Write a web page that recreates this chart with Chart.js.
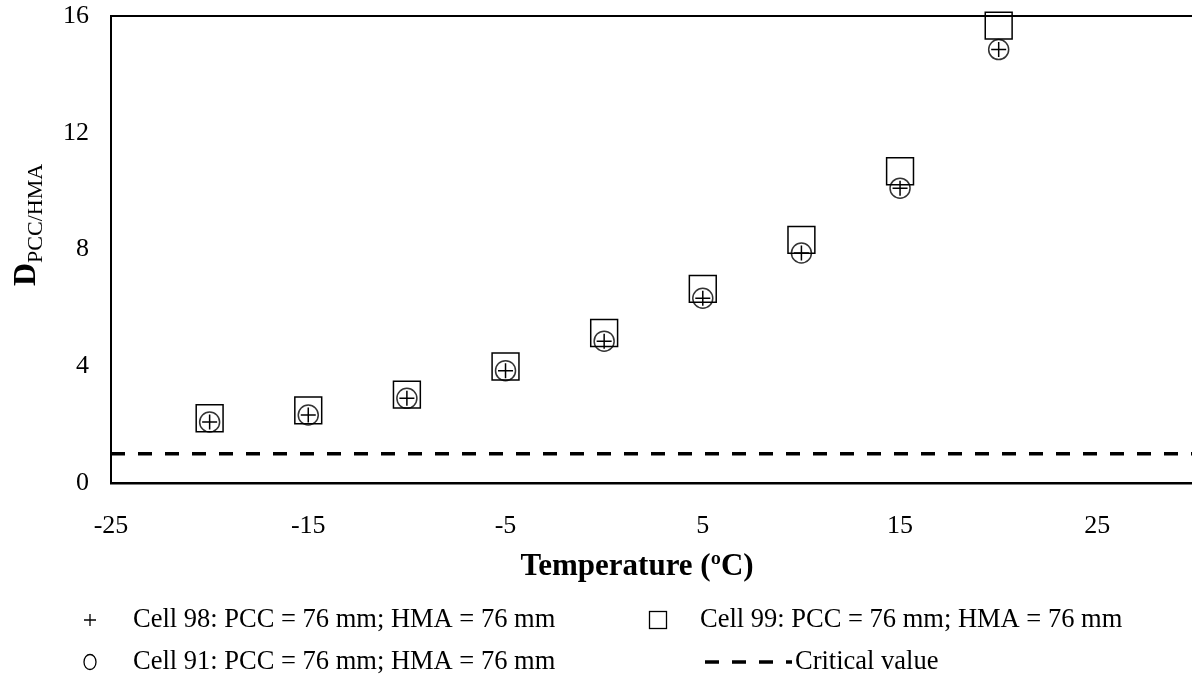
<!DOCTYPE html>
<html>
<head>
<meta charset="utf-8">
<script src="https://cdn.jsdelivr.net/npm/chart.js@4.4.0/dist/chart.umd.min.js"></script>
<style>
  html, body { margin: 0; padding: 0; background: #fff; }
  #wrap { width: 1192px; height: 681px; }
</style>
</head>
<body>
<div id="wrap"><canvas id="chart"></canvas></div>
<script>
// data
const temps = [-20, -15, -10, -5, 0, 5, 10, 15, 20];
const cell98 = [2.09, 2.33, 2.90, 3.85, 4.86, 6.33, 7.88, 10.10, 14.85];
const cell99 = [2.22, 2.49, 3.03, 3.99, 5.14, 6.65, 8.33, 10.68, 15.67];
const cell91 = [2.09, 2.33, 2.90, 3.85, 4.86, 6.33, 7.88, 10.10, 14.85];
const criticalValue = 1;
const xTicks = [-25, -15, -5, 5, 15, 25];
const yTicks = [0, 4, 8, 12, 16];

const serif = '"Liberation Serif", "Times New Roman", serif';

function pts(ys) {
  return temps.map((t, i) => ({ x: t, y: ys[i] }));
}

// titles, top border and legend drawn by hand
const extras = {
  id: 'extras',
  afterDraw(chart) {
    const ctx = chart.ctx;
    const a = chart.chartArea;
    ctx.save();
    // top border
    ctx.strokeStyle = '#000';
    ctx.lineWidth = 2;
    ctx.beginPath();
    ctx.moveTo(a.left - 1, a.top);
    ctx.lineTo(a.right, a.top);
    ctx.stroke();

    // x title
    ctx.fillStyle = '#000';
    ctx.textBaseline = 'middle';
    ctx.textAlign = 'center';
    ctx.font = 'bold 31px ' + serif;
    ctx.fillText('Temperature (\u00baC)', 637, 567);

    // y title: D with subscript
    ctx.save();
    ctx.rotate(-Math.PI / 2);
    ctx.textAlign = 'left';
    ctx.textBaseline = 'alphabetic';
    ctx.font = 'bold 32px ' + serif;
    ctx.fillText('D', -286, 35);
    const dw = ctx.measureText('D').width;
    ctx.font = '22px ' + serif;
    ctx.fillText('PCC/HMA', -286 + dw, 42);
    ctx.restore();

    // legend
    ctx.font = '26.5px ' + serif;
    ctx.textAlign = 'left';
    ctx.textBaseline = 'middle';
    const r1 = 620, r2 = 662;
    ctx.lineWidth = 1.3;
    // plus
    ctx.beginPath();
    ctx.moveTo(84, r1); ctx.lineTo(96, r1);
    ctx.moveTo(90, r1 - 6); ctx.lineTo(90, r1 + 6);
    ctx.stroke();
    ctx.fillText('Cell 98: PCC = 76 mm; HMA = 76 mm', 133, r1);
    // square
    ctx.strokeRect(649.5, 611.5, 17, 17);
    ctx.fillText('Cell 99: PCC = 76 mm; HMA = 76 mm', 700, r1);
    // circle
    ctx.beginPath();
    ctx.ellipse(90, r2, 6, 7.5, 0, 0, Math.PI * 2);
    ctx.stroke();
    ctx.fillText('Cell 91: PCC = 76 mm; HMA = 76 mm', 133, r2);
    // dashed line
    ctx.lineWidth = 3.5;
    ctx.setLineDash([14, 13]);
    ctx.beginPath();
    ctx.moveTo(705, r2); ctx.lineTo(792, r2);
    ctx.stroke();
    ctx.setLineDash([]);
    ctx.fillText('Critical value', 795, r2);
    ctx.restore();
  }
};

new Chart(document.getElementById('chart'), {
  type: 'scatter',
  data: {
    datasets: [
      {
        label: 'Critical value',
        type: 'line',
        data: [{ x: -25, y: criticalValue }, { x: 29.8, y: criticalValue }],
        borderColor: '#000',
        borderWidth: 3.5,
        borderDash: [14, 13],
        pointRadius: 0,
        fill: false
      },
      {
        label: 'Cell 99: PCC = 76 mm; HMA = 76 mm',
        data: pts(cell99),
        clip: false,
        pointStyle: 'rect',
        pointRadius: 19,
        pointBorderColor: '#000',
        pointBackgroundColor: 'rgba(0,0,0,0)',
        pointBorderWidth: 1.5
      },
      {
        label: 'Cell 91: PCC = 76 mm; HMA = 76 mm',
        data: pts(cell91),
        clip: false,
        pointStyle: 'circle',
        pointRadius: 10,
        pointBorderColor: '#333',
        pointBackgroundColor: 'rgba(0,0,0,0)',
        pointBorderWidth: 1.5
      },
      {
        label: 'Cell 98: PCC = 76 mm; HMA = 76 mm',
        data: pts(cell98),
        clip: false,
        pointStyle: 'cross',
        pointRadius: 7.5,
        pointBorderColor: '#000',
        pointBorderWidth: 1.5
      }
    ]
  },
  options: {
    responsive: true,
    maintainAspectRatio: false,
    animation: false,
    layout: { autoPadding: false, padding: { top: 16, right: 0, left: 0, bottom: 0 } },
    plugins: {
      legend: { display: false },
      tooltip: { enabled: false }
    },
    scales: {
      x: {
        type: 'linear',
        min: -25,
        max: 29.8,
        afterBuildTicks(s) { s.ticks = xTicks.map(v => ({ value: v })); },
        afterFit(s) { s.height = 198; s.paddingLeft = 0; s.paddingRight = 0; },
        grid: { drawOnChartArea: false, drawTicks: false },
        border: { display: true, color: '#000', width: 2.5 },
        ticks: { color: '#000', font: { family: serif, size: 26 }, padding: 28 }
      },
      y: {
        min: 0,
        max: 16,
        afterBuildTicks(s) { s.ticks = yTicks.map(v => ({ value: v })); },
        afterFit(s) { s.width = 111; s.paddingTop = 0; s.paddingBottom = 0; },
        grid: { drawOnChartArea: false, drawTicks: false },
        border: { display: true, color: '#000', width: 2 },
        ticks: { color: '#000', font: { family: serif, size: 26 }, padding: 22 }
      }
    }
  },
  plugins: [extras]
});
</script>
</body>
</html>
